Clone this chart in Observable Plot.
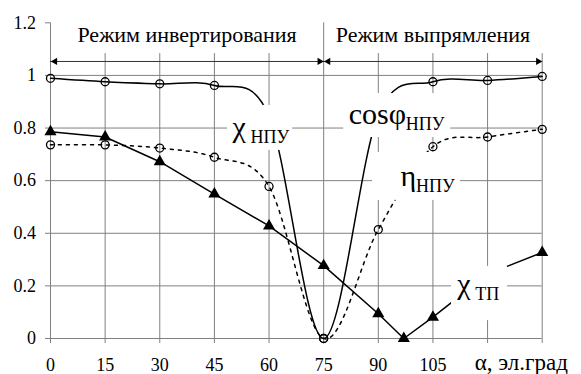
<!DOCTYPE html>
<html>
<head>
<meta charset="utf-8">
<script src="https://cdn.jsdelivr.net/npm/d3@7"></script>
<script src="https://cdn.jsdelivr.net/npm/@observablehq/plot@0.6"></script>
<style>
  body { margin: 0; background: #fff; }
  #chart { color: #808080; }
</style>
</head>
<body>
<div id="chart"></div>
<script>
// Firing angle α, el. degrees
const alpha = [0, 15, 30, 45, 60, 75, 90, 105, 120, 135];
// cosφ of the converter (НПУ)
const cosPhi = [0.989, 0.976, 0.968, 0.962, 0.845, 0, 0.85, 0.976, 0.981, 0.996];
// efficiency η of the converter (НПУ)
const eta = [0.736, 0.736, 0.724, 0.689, 0.578, 0, 0.414, 0.729, 0.766, 0.795];
// χ of the thyristor converter (ТП)
const alphaTP = [0, 15, 30, 45, 60, 75, 90, 97, 105, 120, 135];
const chiTP = [0.786, 0.766, 0.672, 0.549, 0.428, 0.277, 0.094, 0, 0.081, 0.245, 0.327];

const xTicks = [0, 15, 30, 45, 60, 75, 90, 105, 120, 135];
const xTickLabels = [0, 15, 30, 45, 60, 75, 90, 105];
const yTicks = [0, 0.2, 0.4, 0.6, 0.8, 1, 1.2];
const modes = [
  {name: "Режим инвертирования", from: 0, to: 75},
  {name: "Режим выпрямления", from: 75, to: 135}
];
const curveNames = {
  chiNPU: ["χ", "НПУ"],
  cosNPU: ["cosφ", "НПУ"],
  etaNPU: ["η", "НПУ"],
  chiTP: ["χ", "ТП"]
};
const axisTitle = "α, эл.град";

const cosRows = alpha.map((a, i) => ({a, v: cosPhi[i]}));
const etaRows = alpha.map((a, i) => ({a, v: eta[i]}));
const tpRows = alphaTP.map((a, i) => ({a, v: chiTP[i]}));

const serif = "Liberation Serif";
const grid = "#808080";
const ink = "#000";
const arrowV = 1.053;    // level of the mode arrows
const gridTop = 1.083;   // upper end of the inner vertical grid lines
const modeEdges = [modes[0].from, modes[1].from];

// white label box, the main glyph, and its lowered subscript
function curveLabel([main, sub], a, v, subDx, box) {
  return [
    Plot.rect([0], {x1: box[0], x2: box[1], y1: box[2], y2: box[3], fill: "white"}),
    Plot.text([main], {x: a, y: v, text: d => d, textAnchor: "start", lineAnchor: "bottom",
                       fontSize: 30, fontFamily: serif, fill: ink}),
    Plot.text([sub], {x: a, y: v, dx: subDx, dy: 6, text: d => d, textAnchor: "start", lineAnchor: "bottom",
                      fontSize: 18, fontFamily: serif, fill: ink})
  ];
}

const chart = Plot.plot({
  width: 581,
  height: 374,
  marginLeft: 50,
  marginRight: 39.3,
  marginTop: 22.3,
  marginBottom: 36,
  x: {domain: [0, 135], ticks: xTicks, tickFormat: () => "", tickSize: 5, label: null},
  y: {domain: [0, 1.2], ticks: yTicks, tickFormat: () => "", tickSize: 5, label: null},
  marks: [
    // grid
    Plot.ruleY(yTicks.filter(d => d <= 1), {x1: 0, x2: 135, stroke: grid, strokeWidth: 1}),
    Plot.ruleX(xTicks.filter(d => !modeEdges.includes(d)), {y1: 0, y2: gridTop, stroke: grid, strokeWidth: 1}),
    Plot.ruleX(modeEdges, {y1: 0, y2: 1.2, stroke: grid, strokeWidth: 1}),

    // tick labels
    Plot.text(xTickLabels, {x: d => d, y: 0, dy: 32, text: d => String(d), lineAnchor: "bottom",
                            fontSize: 18, fontFamily: serif, fill: ink}),
    Plot.text(yTicks, {x: 0, y: d => d, dx: -14.5, text: d => String(d), textAnchor: "end",
                       fontSize: 18, fontFamily: serif, fill: ink}),

    // mode arrows
    Plot.ruleY([arrowV], {x1: 0, x2: 135, stroke: "#333", strokeWidth: 1}),
    Plot.dot(modes.map(m => m.to), {x: d => d, y: arrowV, symbol: "triangle", r: 2.7, fill: ink, stroke: "none", rotate: 90, dx: -4}),
    Plot.dot(modes.map(m => m.from), {x: d => d, y: arrowV, symbol: "triangle", r: 2.7, fill: ink, stroke: "none", rotate: -90, dx: 4.5}),
    Plot.text(modes, {x: d => (d.from + d.to) / 2, y: arrowV, dy: -19.3, text: "name",
                      lineAnchor: "bottom", fontSize: 22, fontFamily: serif, fill: ink}),

    // series
    Plot.line(cosRows, {x: "a", y: "v", curve: "cardinal", stroke: ink, strokeWidth: 1.5}),
    Plot.line(etaRows, {x: "a", y: "v", curve: "cardinal", stroke: ink, strokeWidth: 1.5, strokeDasharray: "3,5"}),
    Plot.line(tpRows, {x: "a", y: "v", stroke: ink, strokeWidth: 1.5}),
    Plot.dot(cosRows, {x: "a", y: "v", r: 4, stroke: ink, strokeWidth: 1.3, fill: "none"}),
    Plot.dot(etaRows, {x: "a", y: "v", r: 4, stroke: ink, strokeWidth: 1.3, fill: "none"}),
    Plot.dot(tpRows, {x: "a", y: "v", symbol: "triangle", r: 4.5, fill: ink, stroke: "none"}),

    // curve labels
    ...curveLabel(curveNames.chiNPU, 50, 0.765, 18, [48.6, 66.5, 0.715, 0.886]),
    ...curveLabel(curveNames.cosNPU, 81.9, 0.816, 57, [80.5, 109.9, 0.764, 0.931]),
    ...curveLabel(curveNames.etaNPU, 96.1, 0.581, 15.5, [88.4, 112.6, 0.525, 0.707]),
    ...curveLabel(curveNames.chiTP, 111.7, 0.171, 18, [110.1, 125.5, 0.068, 0.274]),

    // axis title
    Plot.text([axisTitle], {x: 116.5, y: -0.118, text: d => d, textAnchor: "start", lineAnchor: "bottom",
                            fontSize: 23, fontFamily: serif, fill: ink})
  ]
});

document.getElementById("chart").appendChild(chart);
</script>
</body>
</html>
